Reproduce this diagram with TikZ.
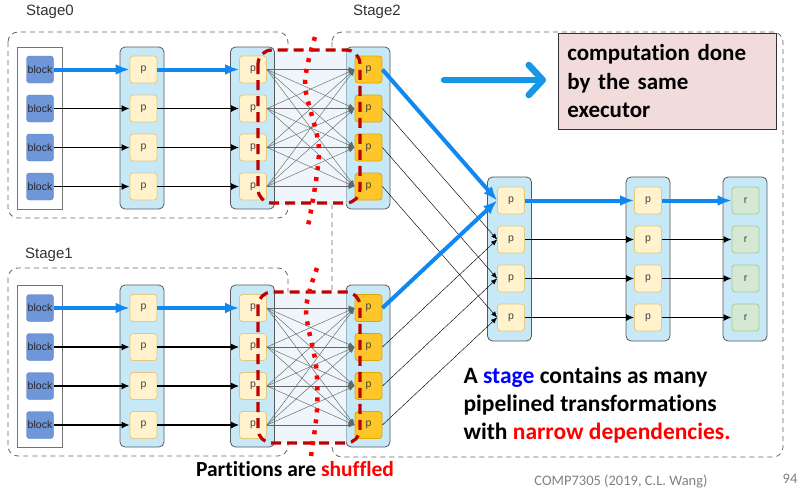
\documentclass[tikz,border=0pt]{standalone}
\usepackage{fontspec}
\setmainfont{Carlito}[Ligatures=NoCommon]
\setsansfont{Liberation Sans}
\usetikzlibrary{arrows.meta, positioning}
\definecolor{colfill}{HTML}{C6E8F7}
\definecolor{blkfill}{HTML}{7096DA}
\definecolor{blkedge}{HTML}{5C80C6}
\definecolor{pfill}{HTML}{FFF2CC}
\definecolor{pedge}{HTML}{E3C97E}
\definecolor{ofill}{HTML}{FFC62A}
\definecolor{oedge}{HTML}{E0A700}
\definecolor{rfill}{HTML}{D5E8D4}
\definecolor{redge}{HTML}{A5CE95}
\definecolor{hotblue}{HTML}{1188F0}
\definecolor{legblue}{HTML}{1596E6}
\definecolor{notefill}{HTML}{F2DCDB}
\definecolor{darkred}{HTML}{C00000}
\definecolor{shufbg}{HTML}{EEF6FB}
\tikzstyle{stagebox} = [draw=black!60, dash pattern=on 5pt off 4pt, line width=0.8pt, rounded corners=10pt]
\tikzstyle{col} = [draw=black!65, fill=colfill, rounded corners=5pt, line width=0.8pt, minimum width=44pt, inner sep=0pt]
\tikzstyle{blk} = [draw=blkedge, fill=blkfill, rounded corners=3pt, minimum size=27pt, inner sep=0pt, font=\sffamily\fontsize{10.5}{10.5}\selectfont, text=black!85]
\tikzstyle{part} = [draw=pedge, fill=pfill, rounded corners=3pt, minimum size=27pt, inner sep=0pt, line width=0.8pt, font=\sffamily\fontsize{10.5}{10.5}\selectfont, text=black!75]
\tikzstyle{opart} = [part, draw=oedge, fill=ofill]
\tikzstyle{rpart} = [part, draw=redge, fill=rfill]
\tikzstyle{flow} = [-{Latex[length=8pt,width=7pt]}, line width=1.3pt]
\tikzstyle{hot} = [-{Latex[length=14pt,width=11pt]}, line width=4pt, draw=hotblue, fill=hotblue]
\tikzstyle{wide} = [-{Latex[length=6pt,width=5pt]}, line width=0.45pt, draw=black!60]
\tikzstyle{thin} = [-{Latex[length=6pt,width=5pt]}, line width=0.45pt]
\tikzstyle{cut} = [draw=red, line width=4.5pt, dash pattern=on 4pt off 7pt]
\tikzstyle{shuf} = [draw=darkred, line width=3.2pt, dash pattern=on 10pt off 6pt, rounded corners=14pt]
\tikzstyle{stagelbl} = [font=\sffamily\fontsize{15}{15}\selectfont, text=black!80]
\tikzstyle{say} = [font=\bfseries\fontsize{23.5}{28}\selectfont, align=left]

\begin{document}
\begin{tikzpicture}[x=1pt, y=-1pt, >=latex]
  \useasboundingbox (0,0) rectangle (800,490);
  % stage outlines
  \draw[stagebox] (8,32) rectangle (288,218);
  \draw[stagebox] (8,268) rectangle (288,456);
  \draw[stagebox] (332,32) rectangle (783,457);
  \node[stagelbl] (lbl0) at (50,12) {Stage0};
  \node[stagelbl] (lbl1) at (49,255) {Stage1};
  \node[stagelbl] (lbl2) at (377,12) {Stage2};

  % columns
  \node[col, draw=black!55, fill=white, rounded corners=0pt, minimum width=45pt, minimum height=162pt] (src0) at (39.5,128) {};
  \node[col, draw=black!55, fill=white, rounded corners=0pt, minimum width=45pt, minimum height=162pt] (src1) at (39.5,366) {};
  \foreach \n/\x in {mapa/142, mapb/252.5, sh/368} {
    \node[col, minimum height=162pt] (\n0) at (\x,128) {};
    \node[col, minimum height=162pt] (\n1) at (\x,366) {};
  }
  \fill[shufbg] (mapb0.east |- 0,50) rectangle (sh0.west |- 0,205);
  \fill[shufbg] (mapb1.east |- 0,292) rectangle (sh1.west |- 0,443);
  \foreach \n/\x in {join/509.5, map/648, red/745} {
    \node[col, minimum height=164pt] (\n) at (\x,259) {};
  }

  % partitions
  \foreach \s/\d in {0/0, 1/238.5} {
    \foreach \i/\y in {1/69.5, 2/108.5, 3/147.5, 4/186.5} {
      \node[blk] (b\s\i) at (40,\y+\d) {block};
      \node[part] (p\s\i) at (143.5,\y+\d) {p};
      \node[part] (q\s\i) at (253,\y+\d) {p};
      \node[opart] (s\s\i) at (368.5,\y+\d) {p};
    }
  }
  \foreach \i/\y in {1/200.5, 2/239.5, 3/278.5, 4/317.5} {
    \node[part] (j\i) at (511,\y) {p};
    \node[part] (k\i) at (648,\y) {p};
    \node[rpart] (r\i) at (745.5,\y) {r};
  }

  % narrow dependencies
  \foreach \s in {0,1} {
    \draw[hot] (b\s1) -- (p\s1);
    \draw[hot] (p\s1) -- (q\s1);
    \foreach \i in {2,3,4} {
      \draw[flow] (b\s\i) -- (p\s\i);
      \draw[flow] (p\s\i) -- (q\s\i);
    }
    % shuffle
    \foreach \i in {1,2,3,4} {
      \foreach \k in {1,2,3,4} {
        \draw[wide] (q\s\i.east) -- (s\s\k.west);
      }
    }
    \foreach \i in {2,3,4} {
      \draw[thin] (s\s\i.east) -- (j\i.west);
    }
    \draw[hot] (s\s1.east) -- (j1.west);
  }
  \draw[hot] (j1) -- (k1);
  \draw[hot] (k1) -- (r1);
  \foreach \i in {2,3,4} {
    \draw[flow] (j\i) -- (k\i);
    \draw[flow] (k\i) -- (r\i);
  }

  % shuffle marks
  \draw[shuf] (258,50) rectangle (360,203);
  \draw[shuf] (258,292) rectangle (360,443);
  \draw[cut] plot[smooth] coordinates {(315,37) (305,85) (319,150) (308,226)};
  \draw[cut] plot[smooth] coordinates {(317,268) (306,310) (316,365) (317,410) (311,456)};

  % notes
  \coordinate (leg0) at (444,80);
  \coordinate (leg1) at (546,80);
  \draw[legblue, line width=6.5pt, line cap=round, -{Straight Barb[length=14pt,width=30pt,round]}] (leg0) -- (leg1);
  \node[draw=black!80, fill=notefill, line width=0.6pt, anchor=north west, minimum width=218pt, minimum height=96pt, text width=200pt, inner sep=9pt, say, font=\bfseries\fontsize{23}{28.5}\selectfont] (note) at (558,33) {computation done\\by the same\\executor};
  \node[say, anchor=west] (rule) at (460,405.5) {A \textcolor{blue}{stage} contains as many\\pipelined transformations\\with \textcolor{red}{narrow dependencies.}};
  \node[font=\bfseries\fontsize{21.5}{21.5}\selectfont] (shufnote) at (295,469) {Partitions are \textcolor{red}{shuffled}};
  \node[font=\fontsize{14.5}{14.5}\selectfont, text=black!50] (foot) at (621,481) {COMP7305 (2019, C.L. Wang)};
  \node[font=\fontsize{14.5}{14.5}\selectfont, text=black!50] (page) at (790,479) {94};
\end{tikzpicture}
\end{document}
